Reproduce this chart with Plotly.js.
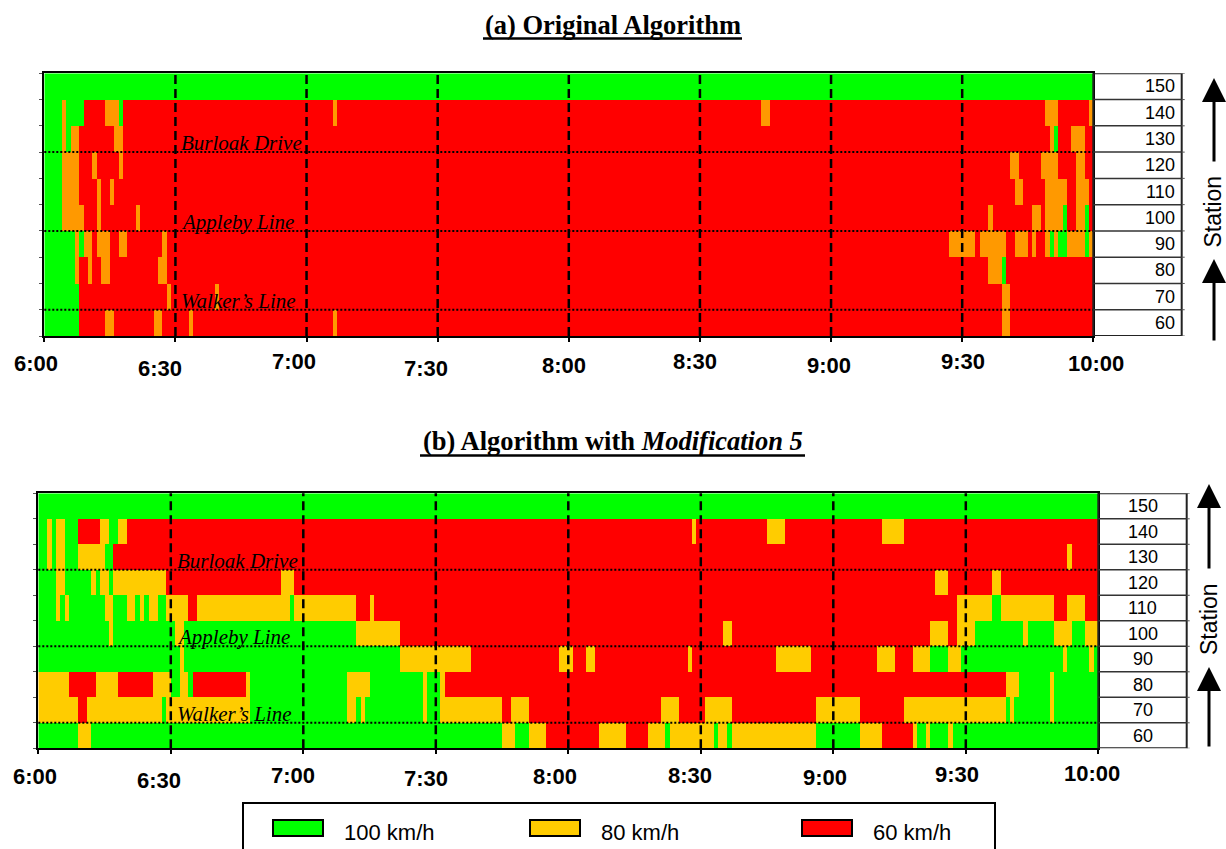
<!DOCTYPE html>
<html><head><meta charset="utf-8">
<script src="https://cdn.plot.ly/plotly-3.0.1.min.js"></script>
<style>html,body{margin:0;padding:0;background:#fff}#chart{width:1226px;height:849px}</style>
</head><body><div id="chart"></div>
<script>
// ---------- data ----------
const stations = [60, 70, 80, 90, 100, 110, 120, 130, 140, 150];
const speedValues = [100, 80, 60];
const speedLabels = ['100 km/h', '80 km/h', '60 km/h'];
const tickMinutes = [0, 30, 60, 90, 120, 150, 180, 210, 240];
const tickText = ['6:00', '6:30', '7:00', '7:30', '8:00', '8:30', '9:00', '9:30', '10:00'];
const placeNames = ['Burloak Drive', 'Appleby Line', 'Walker\u2019s Line'];
const placeBoundaries = [125, 95, 65];
const totalMinutes = 240;

// Each row: [start minute after 6:00, speed limit] change points
// (a) Original Algorithm
const a150 = [[0,100]];
const a140 = [[0,100],[4,80],[5,100],[9,60],[14,80],[17,100],[18,60],[66,80],[67,60],[164,80],[166,60],[229,80],[232,60],[239,80]];
const a130 = [[0,100],[4,80],[5,100],[6,80],[8,60],[16,80],[18,60],[230,80],[231,100],[232,60],[235,80],[238,60]];
const a120 = [[0,100],[4,80],[8,60],[11,80],[12,60],[17,80],[18,60],[221,80],[223,60],[228,80],[232,60],[236,80],[238,60]];
const a110 = [[0,100],[4,80],[8,60],[12,80],[13,60],[15,80],[16,60],[222,80],[224,60],[229,80],[234,60],[236,80],[239,60]];
const a100 = [[0,100],[4,80],[9,60],[12,80],[13,60],[21,80],[22,60],[216,80],[217,60],[226,80],[228,60],[229,80],[233,100],[234,60],[236,80],[238,100],[239,60]];
const a90  = [[0,100],[7,80],[8,100],[9,80],[11,60],[12,80],[15,60],[17,80],[19,60],[27,80],[28,60],[207,80],[213,60],[214,80],[220,60],[222,80],[225,60],[226,80],[227,60],[229,80],[230,100],[231,80],[232,100],[234,80],[238,100],[239,80]];
const a80  = [[0,100],[7,80],[8,60],[10,80],[11,60],[13,80],[15,60],[26,80],[28,60],[216,80],[219,100],[220,60]];
const a70  = [[0,100],[8,60],[28,80],[29,60],[39,80],[40,60],[219,80],[221,60]];
const a60  = [[0,100],[8,60],[14,80],[16,60],[25,80],[27,60],[33,80],[34,60],[66,80],[67,60],[219,80],[221,60]];

// (b) Algorithm with Modification 5
const b150 = [[0,100]];
const b140 = [[0,100],[2,80],[3,100],[4,80],[6,100],[9,60],[14,80],[16,100],[18,80],[20,60],[148,80],[149,60],[165,80],[169,60],[191,80],[196,60]];
const b130 = [[0,100],[2,80],[3,100],[4,80],[6,100],[9,80],[15,100],[17,60],[233,80],[234,60]];
const b120 = [[0,100],[4,80],[6,100],[12,80],[13,100],[14,80],[16,100],[17,80],[29,60],[55,80],[58,60],[203,80],[206,60],[216,80],[218,60]];
const b110 = [[0,100],[4,80],[5,100],[6,80],[7,100],[15,80],[17,100],[20,80],[22,100],[23,80],[24,100],[25,80],[27,100],[29,80],[34,60],[36,80],[57,100],[58,80],[72,60],[75,80],[76,60],[208,80],[216,100],[218,80],[230,60],[233,80],[237,60]];
const b100 = [[0,100],[16,80],[17,100],[31,80],[33,100],[72,80],[82,60],[155,80],[157,60],[202,80],[206,60],[208,80],[212,100],[223,80],[224,100],[230,80],[234,100],[237,80]];
const b90  = [[0,100],[32,80],[33,100],[82,80],[98,60],[118,80],[121,60],[124,80],[126,60],[147,80],[148,60],[167,80],[175,60],[190,80],[194,60],[198,80],[202,100],[206,80],[209,100],[232,80],[233,100],[238,80],[239,100]];
const b80  = [[0,80],[7,60],[13,80],[18,60],[26,80],[30,100],[32,80],[34,100],[35,60],[47,80],[48,100],[70,80],[75,100],[87,80],[88,100],[91,80],[92,60],[219,80],[222,100],[229,80],[230,100]];
const b70  = [[0,80],[9,60],[11,80],[28,100],[29,80],[48,100],[70,80],[72,100],[73,80],[74,100],[87,80],[88,100],[91,80],[105,60],[107,80],[111,60],[141,80],[145,60],[151,80],[157,60],[176,80],[186,60],[196,80],[219,100],[220,80],[221,100],[229,80],[230,100]];
const b60  = [[0,100],[9,80],[12,100],[105,80],[108,100],[111,80],[115,60],[127,80],[133,60],[138,80],[142,100],[143,80],[153,100],[154,80],[156,100],[157,80],[176,100],[186,80],[191,60],[198,80],[199,100],[201,80],[202,100],[206,80],[207,100]];

// ---------- helpers ----------
function expand(changes) {
  const row = [];
  for (let m = 0; m < totalMinutes; m++) {
    let v = changes[0][1];
    for (const c of changes) { if (c[0] <= m) v = c[1]; }
    row.push(v);
  }
  return row;
}
const zA = [a60, a70, a80, a90, a100, a110, a120, a130, a140, a150].map(expand);
const zB = [b60, b70, b80, b90, b100, b110, b120, b130, b140, b150].map(expand);
const xCenters = Array.from({length: totalMinutes}, (_, i) => i + 0.5);

const W = 1226, H = 849;
const px = x => x / W;
const py = y => 1 - y / H;

const GREEN = '#00FF00', RED = '#FF0000', ORANGE_A = '#FF9900', YELLOW_B = '#FFCC00';
function scale(mid) {
  return [[0, RED], [0.25, RED], [0.25, mid], [0.75, mid], [0.75, GREEN], [1, GREEN]];
}
const legendColors = [GREEN, YELLOW_B, RED];

const traces = [
  {type: 'heatmap', x: xCenters, y: stations, z: zA, xaxis: 'x', yaxis: 'y',
   colorscale: scale(ORANGE_A), zmin: 60, zmax: 100, showscale: false, hoverinfo: 'skip', zsmooth: false},
  {type: 'heatmap', x: xCenters, y: stations, z: zB, xaxis: 'x2', yaxis: 'y2',
   colorscale: scale(YELLOW_B), zmin: 60, zmax: 100, showscale: false, hoverinfo: 'skip', zsmooth: false}
];

// panel geometry (pixels)
const P = {
  a: {x0: 44.3, x1: 1093.3, y0: 73.3, y1: 336, tableR: 1181.7, xa: 'x', ya: 'y',
      labelAnchor: 'right', labelX: 1177, placeX: 179,
      tickY: [364, 368, 362, 368, 366, 362, 366, 361, 364],
      tickDx: [-8, -15, -13, -12, -5, -5, -2, 1, 3],
      stationX: 1212.5, stationY: 212, arrowX: 1214, arrows: [[78, 163], [259, 342]]},
  b: {x0: 38.3, x1: 1098.3, y0: 493.3, y1: 748.3, tableR: 1186.7, xa: 'x2', ya: 'y2',
      labelAnchor: 'center', labelX: 1142.5, placeX: 175,
      tickY: [776, 780, 775, 778, 776, 775, 777, 774, 773],
      tickDx: [-3, -12, -10, -10, -13, -11, -8, -9, -6],
      stationX: 1209, stationY: 619, arrowX: 1209, arrows: [[484, 570], [667, 748]]}
};

function axisPair(p) {
  const xa = {domain: [px(p.x0), px(p.x1)], range: [0, totalMinutes], anchor: p.ya,
    tickvals: tickMinutes, ticks: 'outside', ticklen: 4, tickwidth: 2, tickcolor: '#000',
    showticklabels: false, showgrid: false, zeroline: false,
    showline: true, mirror: true, linewidth: 2, linecolor: '#000', fixedrange: true};
  const ya = {domain: [py(p.y1), py(p.y0)], range: [55, 155], anchor: p.xa,
    tickvals: stations.map(s => s - 5).concat([155]), ticks: 'outside', ticklen: 3, tickwidth: 1, tickcolor: '#555',
    showticklabels: false, showgrid: false, zeroline: false,
    showline: true, mirror: true, linewidth: 2, linecolor: '#000', fixedrange: true};
  return [xa, ya];
}
const [xA, yA] = axisPair(P.a);
const [xB, yB] = axisPair(P.b);

const shapes = [];
const annotations = [];
const sans = 'Liberation Sans, Arial, sans-serif';
const serif = 'Liberation Serif, Times New Roman, serif';

for (const key of ['a', 'b']) {
  const p = P[key];
  const ydom = p.ya + ' domain';
  // dashed half-hour lines
  tickMinutes.slice(1, -1).forEach(t => shapes.push({type: 'line', xref: p.xa, yref: ydom,
    x0: t, x1: t, y0: 0, y1: 1, layer: 'above', line: {color: '#000', width: 2.5, dash: '9px,5px'}}));
  // dotted cross-street lines
  placeBoundaries.forEach(b => shapes.push({type: 'line', xref: p.xa + ' domain', yref: p.ya,
    x0: 0, x1: 1, y0: b, y1: b, layer: 'above', line: {color: '#000', width: 2, dash: '2px,2px'}}));
  // station table
  shapes.push({type: 'rect', xref: 'paper', yref: p.ya, x0: px(p.x1), x1: px(p.tableR), y0: 55, y1: 155,
    line: {color: '#222', width: 2}, fillcolor: 'rgba(0,0,0,0)'});
  stations.slice(1).forEach(s => shapes.push({type: 'line', xref: 'paper', yref: p.ya,
    x0: px(p.x1), x1: px(p.tableR), y0: s - 5, y1: s - 5, line: {color: '#333', width: 1.5}}));
  stations.map(s => s - 5).concat([155]).forEach(b => shapes.push({type: 'line', xref: 'paper', yref: p.ya,
    x0: px(p.tableR), x1: px(p.tableR + 3), y0: b, y1: b, line: {color: '#555', width: 1}}));
  stations.forEach(s => annotations.push({xref: 'paper', yref: p.ya, x: px(p.labelX), y: s,
    xanchor: p.labelAnchor, yanchor: 'middle', text: String(s), showarrow: false,
    font: {family: sans, size: 18, color: '#000'}}));
  // place names
  placeNames.forEach((n, i) => annotations.push({xref: 'paper', yref: p.ya, x: px(p.placeX), y: placeBoundaries[i],
    xanchor: 'left', yanchor: 'bottom', yshift: -5, text: '<i>' + n + '</i>', showarrow: false,
    font: {family: serif, size: 21, color: '#000'}}));
  // time labels
  tickText.forEach((t, i) => annotations.push({xref: p.xa, yref: 'paper', x: tickMinutes[i], y: py(p.tickY[i]),
    xshift: p.tickDx[i], xanchor: 'center', yanchor: 'middle', text: '<b>' + t + '</b>', showarrow: false,
    font: {family: sans, size: 22, color: '#000'}}));
  // Station label + arrows
  annotations.push({xref: 'paper', yref: 'paper', x: px(p.stationX), y: py(p.stationY), text: 'Station',
    textangle: -90, showarrow: false, xanchor: 'center', yanchor: 'middle',
    font: {family: sans, size: 23, color: '#000'}});
  p.arrows.forEach(a => annotations.push({xref: 'paper', yref: 'paper', x: px(p.arrowX), y: py(a[0]),
    ax: 0, ay: a[1] - a[0], text: '', showarrow: true, arrowhead: 2, arrowsize: 1.6, arrowwidth: 3,
    arrowcolor: '#000', standoff: 0, startstandoff: 0}));
}

// title underlines
[[483, 742, 38.5], [420, 805, 455.5]].forEach(u => shapes.push({type: 'line', xref: 'paper', yref: 'paper',
  x0: px(u[0]), x1: px(u[1]), y0: py(u[2]), y1: py(u[2]), line: {color: '#000', width: 2.5}}));

// bottom legend
shapes.push({type: 'rect', xref: 'paper', yref: 'paper', x0: px(243), x1: px(995), y0: py(852), y1: py(803),
  line: {color: '#000', width: 2}, fillcolor: 'rgba(0,0,0,0)'});
const legSwatchX = [273, 530, 802];
speedValues.forEach((v, i) => {
  shapes.push({type: 'rect', xref: 'paper', yref: 'paper', x0: px(legSwatchX[i]), x1: px(legSwatchX[i] + 50),
    y0: py(836), y1: py(820), line: {color: '#000', width: 2}, fillcolor: legendColors[i]});
  annotations.push({xref: 'paper', yref: 'paper', x: px(legSwatchX[i] + 69), y: py(832), xanchor: 'left',
    yanchor: 'middle', text: speedLabels[i], showarrow: false, font: {family: sans, size: 22, color: '#000'}});
});

// panel (b) title
annotations.push({xref: 'paper', yref: 'paper', x: 0.5, y: py(441), xanchor: 'center', yanchor: 'middle',
  text: '<b>(b) Algorithm with <i>Modification 5</i></b>', showarrow: false,
  font: {family: serif, size: 26.5, color: '#000'}});

const layout = {
  width: W, height: H, margin: {l: 0, r: 0, t: 0, b: 0},
  paper_bgcolor: '#fff', plot_bgcolor: '#fff', showlegend: false,
  title: {text: '<b>(a) Original Algorithm</b>', x: 0.5, xanchor: 'center', xref: 'paper',
    y: py(25), yanchor: 'middle', yref: 'paper', font: {family: serif, size: 26.5, color: '#000'}},
  xaxis: xA, yaxis: yA, xaxis2: xB, yaxis2: yB,
  shapes: shapes, annotations: annotations
};

Plotly.newPlot('chart', traces, layout, {displayModeBar: false, staticPlot: true});
</script>
</body></html>
